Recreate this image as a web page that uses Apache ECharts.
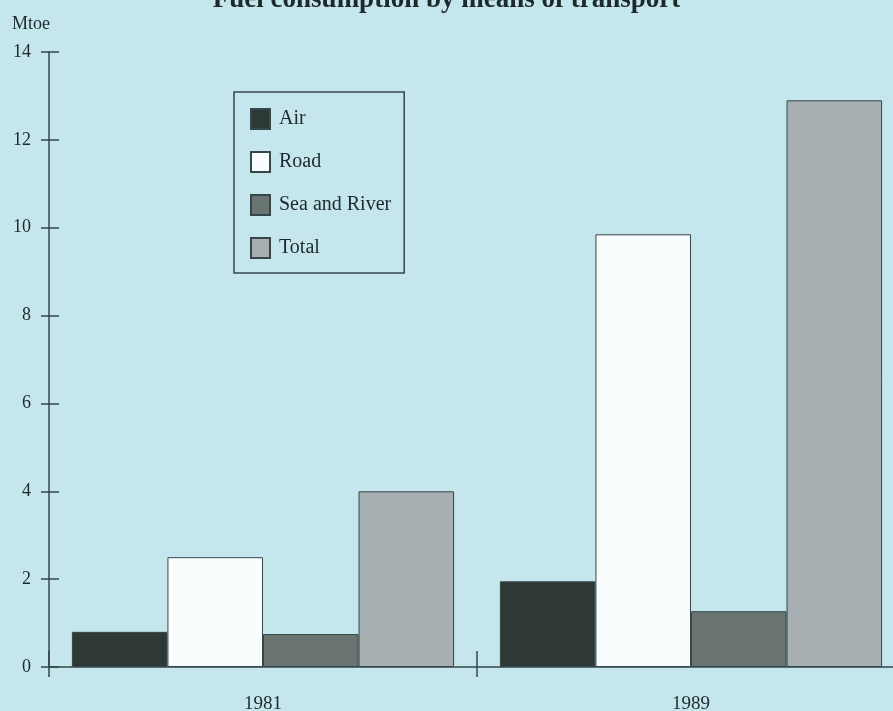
<!DOCTYPE html>
<html>
<head>
<meta charset="utf-8">
<script src="https://cdn.jsdelivr.net/npm/echarts@6/dist/echarts.min.js"></script>
<style>
  html, body { margin: 0; padding: 0; background: #c5e6ec; }
  #chart { width: 893px; height: 711px; }
</style>
</head>
<body>
<div id="chart"></div>
<script>
// Fuel consumption (Mtoe) by means of transport
const years = ['1981', '1989'];
const air = [0.8, 1.95];
const road = [2.5, 9.85];
const seaRiver = [0.75, 1.27];
const total = [4.0, 12.9];
const yTicks = [0, 2, 4, 6, 8, 10, 12, 14];

const ink = '#34474b';
const textColor = '#1c2a2c';
const font = 'Liberation Serif';

const chart = echarts.init(document.getElementById('chart'));

function barSeries(name, data, color) {
  return {
    name: name,
    type: 'bar',
    data: data,
    barGap: '0%',
    barCategoryGap: '10.7%',
    itemStyle: { color: color, borderColor: ink, borderWidth: 1 }
  };
}

chart.setOption({
  backgroundColor: '#c5e6ec',
  animation: false,
  title: {
    text: 'Fuel consumption by means of transport',
    left: 'center',
    top: -18,
    textStyle: { fontFamily: font, fontWeight: 'bold', fontSize: 27, color: textColor }
  },
  legend: {
    orient: 'vertical',
    left: 234,
    top: 92,
    padding: [16, 13, 14, 16],
    itemWidth: 19,
    itemHeight: 20,
    itemGap: 21,
    borderColor: ink,
    borderWidth: 1.5,
    icon: 'rect',
    textStyle: { fontFamily: font, fontSize: 20, color: textColor, padding: [0, 0, 0, 4] },
    data: ['Air', 'Road', 'Sea and River', 'Total']
  },
  grid: { left: 49, width: 856, top: 52, bottom: 44, outerBoundsMode: 'none' },
  xAxis: [
    {
      type: 'category',
      data: years,
      axisLine: { lineStyle: { color: ink, width: 1.5 } },
      axisTick: { show: true, inside: true, length: 16, lineStyle: { color: ink, width: 1.5 } },
      axisLabel: { margin: 28, fontFamily: font, fontSize: 19, color: textColor }
    },
    {
      type: 'category',
      data: years,
      position: 'bottom',
      axisLine: { show: false },
      axisTick: { show: true, length: 10, lineStyle: { color: ink, width: 1.5 } },
      axisLabel: { show: false }
    }
  ],
  yAxis: [
    {
      type: 'value',
      min: yTicks[0],
      max: yTicks[yTicks.length - 1],
      interval: 2,
      name: 'Mtoe',
      nameLocation: 'end',
      nameGap: 19,
      nameTextStyle: { fontFamily: font, fontSize: 18, color: textColor, align: 'left', padding: [0, 0, 0, -37] },
      splitLine: { show: false },
      axisLine: { show: true, lineStyle: { color: ink, width: 1.5 } },
      axisTick: { show: true, length: 8, lineStyle: { color: ink, width: 1.5 } },
      axisLabel: { margin: 18, fontFamily: font, fontSize: 18, color: textColor }
    },
    {
      type: 'value',
      min: yTicks[0],
      max: yTicks[yTicks.length - 1],
      interval: 2,
      position: 'left',
      splitLine: { show: false },
      axisLine: { show: false },
      axisTick: { show: true, inside: true, length: 10, lineStyle: { color: ink, width: 1.5 } },
      axisLabel: { show: false }
    }
  ],
  series: [
    barSeries('Air', air, '#2e3935'),
    barSeries('Road', road, '#fafdfd'),
    barSeries('Sea and River', seaRiver, '#6a7572'),
    barSeries('Total', total, '#a8afb3')
  ]
});
</script>
</body>
</html>
